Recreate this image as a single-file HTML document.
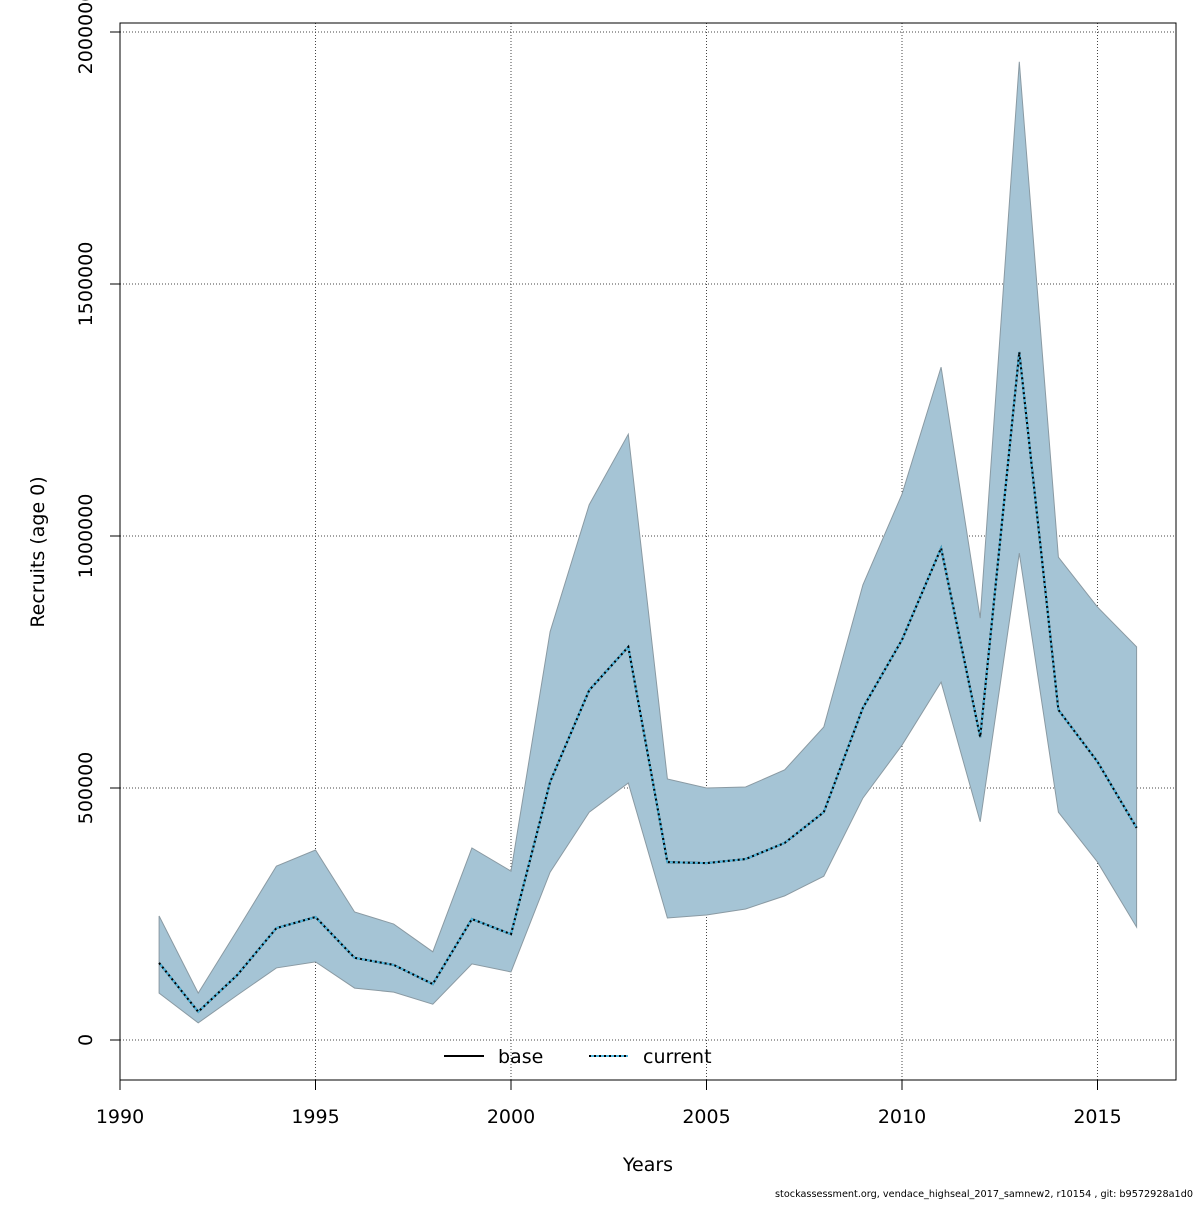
<!DOCTYPE html>
<html><head><meta charset="utf-8"><style>
body{margin:0;background:#fff;}
svg text{font-family:"DejaVu Sans","Liberation Sans",sans-serif;}
</style></head><body>
<svg width="1200" height="1200" xmlns="http://www.w3.org/2000/svg">
<g id="grid"></g>
<g id="band"></g>
<g id="lines"></g>
<rect x="120" y="23" width="1056" height="1057" fill="none" stroke="#000" stroke-width="1"/>
<g id="axes"></g>
<text x="648" y="1171" font-size="19" text-anchor="middle">Years</text>
<text transform="translate(44,552) rotate(-90)" font-size="19" text-anchor="middle">Recruits (age 0)</text>
<g>
<g><line x1="444" y1="1056" x2="484" y2="1056" stroke="#000" stroke-width="2"/><text x="498" y="1063" font-size="19">base</text></g>
<g><line x1="589" y1="1056" x2="628" y2="1056" stroke="#4fb8e0" stroke-width="2"/><line x1="589" y1="1056" x2="628" y2="1056" stroke="#000" stroke-width="2" stroke-dasharray="2,3"/><text x="643" y="1063" font-size="19">current</text></g>
</g>
<text x="775" y="1197" font-size="10" textLength="418" lengthAdjust="spacingAndGlyphs">stockassessment.org, vendace_highseal_2017_samnew2, r10154 , git: b9572928a1d0</text>
</svg>
<script>
const years=[1991,1992,1993,1994,1995,1996,1997,1998,1999,2000,2001,2002,2003,2004,2005,2006,2007,2008,2009,2010,2011,2012,2013,2014,2015,2016];
const median=[153000,56000,129000,222000,244000,163000,149000,111000,240000,210000,512000,694000,780000,353000,351000,359000,391000,452000,659000,794000,976000,601000,1365000,655000,552000,421000];
const upper=[246000,93000,218000,345000,377000,254000,230000,175000,381000,335000,810000,1062000,1202000,518000,500000,502000,536000,621000,903000,1083000,1335000,837000,1941000,958000,859000,780000];
const lower=[93000,34000,89000,143000,155000,103000,95000,71000,151000,135000,333000,452000,510000,242000,248000,260000,286000,325000,480000,585000,710000,433000,966000,452000,353000,224000];
const xTicks=[1990,1995,2000,2005,2010,2015];
const yTicks=[0,500000,1000000,1500000,2000000];
const X=y=>120+(y-1990)*39.1;
const Y=v=>1040-v*252/500000;
const NS="http://www.w3.org/2000/svg";
function mk(t,a,p){const e=document.createElementNS(NS,t);for(const k in a)e.setAttribute(k,a[k]);p.appendChild(e);return e;}
const grid=document.getElementById('grid'),axes=document.getElementById('axes');
xTicks.forEach(t=>{
 const l=mk('line',{x1:X(t),x2:X(t),y1:23,y2:1080,stroke:'#444','stroke-dasharray':'1,2'},grid);
 
 
 const tk=mk('line',{x1:X(t),x2:X(t),y1:1080,y2:1090,stroke:'#000'},axes);
 
 
 const tx=mk('text',{x:X(t),y:1123,'font-size':19,'text-anchor':'middle'},axes);tx.textContent=t;
 
 
});
yTicks.forEach(t=>{
 const l=mk('line',{x1:120,x2:1176,y1:Y(t),y2:Y(t),stroke:'#444','stroke-dasharray':'1,2'},grid);
 
 
 const tk=mk('line',{x1:110,x2:120,y1:Y(t),y2:Y(t),stroke:'#000'},axes);
 
 
 const tx=mk('text',{x:0,y:0,'font-size':19,'text-anchor':'middle',transform:`translate(92,${Y(t)}) rotate(-90)`},axes);tx.textContent=t;
 
 
});
let pts=years.map((y,i)=>X(y)+','+Y(upper[i]));
for(let i=years.length-1;i>=0;i--)pts.push(X(years[i])+','+Y(lower[i]));
const poly=mk('polygon',{points:pts.join(' '),fill:'#a5c4d5',stroke:'#8a9aa3','stroke-width':1},document.getElementById('band'));


const mp=years.map((y,i)=>X(y)+','+Y(median[i])).join(' ');
const lg=document.getElementById('lines');
const b=mk('polyline',{points:mp,fill:'none',stroke:'#000','stroke-width':2},lg);


const c1=mk('polyline',{points:mp,fill:'none',stroke:'#4fb8e0','stroke-width':2},lg);


const c=mk('polyline',{points:mp,fill:'none',stroke:'#000','stroke-width':2,'stroke-dasharray':'2,3'},lg);


</script>
</body></html>
